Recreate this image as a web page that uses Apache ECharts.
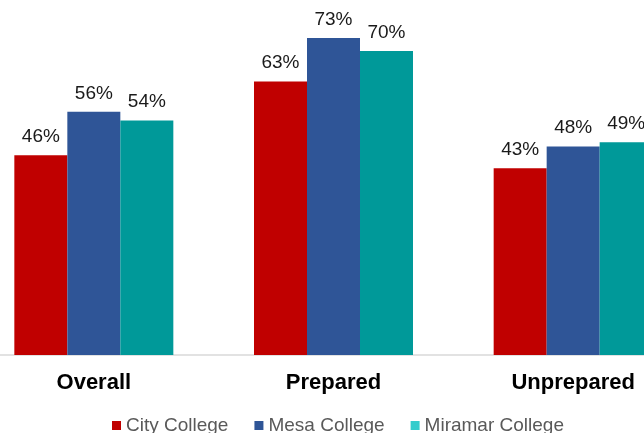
<!DOCTYPE html>
<html>
<head>
<meta charset="utf-8">
<script src="https://cdn.jsdelivr.net/npm/echarts@6/dist/echarts.min.js"></script>
<style>
html,body{margin:0;padding:0;background:#fff;overflow:hidden;width:644px;height:433px;position:relative;}
#chart{position:absolute;left:-26px;top:0;width:719px;height:433px;}
</style>
</head>
<body>
<div id="chart"></div>
<script>
var categories = ['Overall', 'Prepared', 'Unprepared'];
var seriesNames = ['City College', 'Mesa College', 'Miramar College'];
var cityValues = [46, 63, 43];
var mesaValues = [56, 73, 48];
var miramarValues = [54, 70, 49];

var barColors = ['#C00000', '#2F5597', '#009999'];
var legendColors = ['#C00000', '#2F5597', '#33CCCC'];
var valuesList = [cityValues, mesaValues, miramarValues];

var chart = echarts.init(document.getElementById('chart'), null, {renderer: 'canvas'});

var series = seriesNames.map(function (name, i) {
  return {
    name: name,
    type: 'bar',
    data: valuesList[i],
    barWidth: 53,
    barGap: '0%',
    itemStyle: {color: barColors[i]},
    label: {
      show: true,
      position: 'top',
      distance: 9,
      formatter: '{c}%',
      color: '#1a1a1a',
      fontSize: 19,
      fontFamily: 'Liberation Sans, Arial, sans-serif'
    }
  };
});

chart.setOption({
  animation: false,
  backgroundColor: '#ffffff',
  grid: {left: 0, top: 7.6, right: 0, height: 347.4, containLabel: false},
  legend: {
    data: seriesNames.map(function (n, i) {
      return {name: n, itemStyle: {color: legendColors[i]}};
    }),
    left: 138,
    top: 416,
    padding: 0,
    itemWidth: 9,
    itemHeight: 9,
    itemGap: 26,
    icon: 'rect',
    textStyle: {
      color: '#595959',
      fontSize: 19,
      fontFamily: 'Liberation Sans, Arial, sans-serif'
    }
  },
  xAxis: {
    type: 'category',
    data: categories,
    axisLine: {show: true, lineStyle: {color: '#d9d9d9', width: 1.5}},
    axisTick: {show: false},
    axisLabel: {
      color: '#000000',
      fontSize: 22,
      fontWeight: 'bold',
      fontFamily: 'Liberation Sans, Arial, sans-serif',
      margin: 17
    }
  },
  yAxis: {
    type: 'value',
    min: 0,
    max: 80,
    show: false,
    splitLine: {show: false}
  },
  series: series
});
</script>
</body>
</html>
